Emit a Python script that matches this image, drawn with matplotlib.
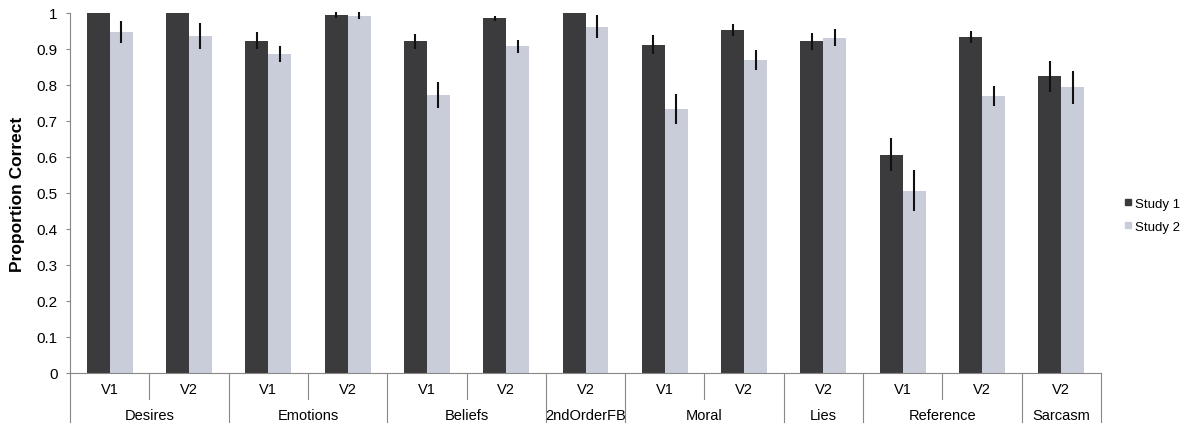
import matplotlib
matplotlib.use("Agg")
import matplotlib.pyplot as plt
import matplotlib.transforms as mtransforms
from matplotlib.lines import Line2D
import numpy as np

plt.rcParams['font.family'] = ['Liberation Sans', 'DejaVu Sans']

categories = ["Desires", "Emotions", "Beliefs", "2ndOrderFB", "Moral", "Lies", "Reference", "Sarcasm"]
versions = [["V1", "V2"], ["V1", "V2"], ["V1", "V2"], ["V2"], ["V1", "V2"], ["V2"], ["V1", "V2"], ["V2"]]

study1 = [1.0, 1.0, 0.923, 0.995, 0.921, 0.985, 1.0, 0.912, 0.953, 0.921, 0.606, 0.933, 0.824]
study1_err = [0.0, 0.0, 0.023, 0.008, 0.021, 0.008, 0.0, 0.026, 0.016, 0.023, 0.046, 0.016, 0.043]
study2 = [0.948, 0.937, 0.886, 0.993, 0.772, 0.907, 0.962, 0.733, 0.870, 0.931, 0.506, 0.769, 0.794]
study2_err = [0.030, 0.036, 0.022, 0.010, 0.037, 0.018, 0.032, 0.042, 0.028, 0.024, 0.057, 0.028, 0.046]

dark = "#3b3b3d"
light = "#c9cdd9"

fig = plt.figure(figsize=(11.85, 4.27), dpi=100)
ax = fig.add_axes([70/1185, 53/427, 1031/1185, 360/427])

n = len(study1)
x = np.arange(n)
w = 0.29
ax.bar(x - w/2, study1, w, color=dark, zorder=2)
ax.bar(x + w/2, study2, w, color=light, zorder=2)
ax.errorbar(x - w/2, study1, yerr=study1_err, fmt='none', ecolor='#111111', elinewidth=1.5, capsize=0, zorder=3, clip_on=False)
ax.errorbar(x + w/2, study2, yerr=study2_err, fmt='none', ecolor='#111111', elinewidth=1.5, capsize=0, zorder=3, clip_on=False)

ax.set_xlim(-0.5, n - 0.5)
ax.set_ylim(0, 1.0)
ax.set_yticks(np.arange(0, 1.01, 0.1))
ax.set_yticklabels(["0", "0.1", "0.2", "0.3", "0.4", "0.5", "0.6", "0.7", "0.8", "0.9", "1"], fontsize=11)
ax.tick_params(axis='y', length=3, color='#888888', pad=6)
ax.set_xticks([])
for s in ['top', 'right']:
    ax.spines[s].set_visible(False)
ax.spines['left'].set_color('#888888')
ax.spines['bottom'].set_color('#888888')
ax.set_ylabel("Proportion Correct", fontsize=12.5, fontweight='bold', labelpad=8)

trans = mtransforms.blended_transform_factory(ax.transData, ax.transAxes)
short_y = -26/360
long_y = -49/360
vlab_y = -16/360
clab_y = -42/360

idx = 0
boundaries_long = [-0.5]
for cat, vers in zip(categories, versions):
    start = idx
    for k, v in enumerate(vers):
        ax.text(idx, vlab_y, v, transform=trans, ha='center', va='center', fontsize=10.5)
        if k > 0:
            ax.plot([idx - 0.5, idx - 0.5], [0, short_y], transform=trans, color='#888888', lw=0.8, clip_on=False)
        idx += 1
    ax.text((start + idx - 1) / 2, clab_y, cat, transform=trans, ha='center', va='center', fontsize=10.5)
    boundaries_long.append(idx - 0.5)
for b in boundaries_long:
    ax.plot([b, b], [0, long_y], transform=trans, color='#888888', lw=0.8, clip_on=False)

handles = [Line2D([], [], marker='s', linestyle='none', color=dark, markersize=5),
           Line2D([], [], marker='s', linestyle='none', color=light, markersize=5)]
fig.legend(handles, ["Study 1", "Study 2"], loc='center left', bbox_to_anchor=(1110/1185, 1 - 216/427),
           frameon=False, fontsize=9.5, handletextpad=0.0, labelspacing=0.8, handlelength=1.0)

fig.savefig("out.png", dpi=100)
